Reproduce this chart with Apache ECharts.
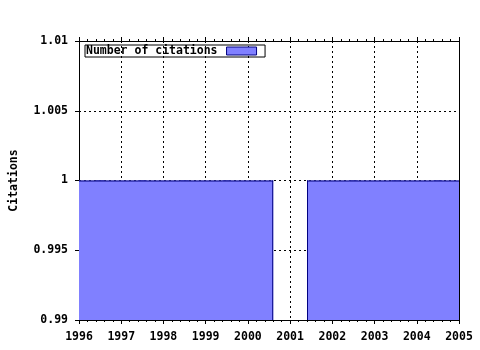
<!DOCTYPE html>
<html><head><meta charset="utf-8">
<script src="https://cdn.jsdelivr.net/npm/echarts@6/dist/echarts.min.js"></script>
<style>html,body{margin:0;padding:0;background:#fff}#c{width:480px;height:350px}</style>
</head><body><div id="c"></div>
<script>
var years = [1996, 1997, 1998, 1999, 2000, 2001, 2002, 2003, 2004, 2005];
var citations = [1, 1, 1, 1, 1, 0, 1, 1, 1, 1];
var yTicks = [0.99, 0.995, 1, 1.005, 1.01];
var yTickLabels = ['0.99', '0.995', '1', '1.005', '1.01'];
var seriesName = 'Number of citations';
var axisName = 'Citations';

var FONT = 'DejaVu Sans Mono';
var FILL = '#8080ff', EDGE = '#000080';
var BOX_HALF = 0.6;
var Y_MIN = yTicks[0], Y_MAX = yTicks[yTicks.length - 1];
var data = years.map(function (y, i) { return [y, citations[i]]; });

var chart = echarts.init(document.getElementById('c'), null, {renderer: 'canvas'});
var txt = {color: '#000', fontFamily: FONT, fontWeight: 'bold', fontSize: 11.5};
var dotted = {show: true, lineStyle: {color: '#000', width: 1, type: [2, 3]}};

function renderItem(params, api) {
  var i = params.dataIndex;
  var x = api.value(0), v = api.value(1);
  var p0 = api.coord([x - BOX_HALF, Y_MIN]);
  var p1 = api.coord([x + BOX_HALF, v]);
  var cs = params.coordSys;
  var left = Math.max(p0[0], cs.x), right = Math.min(p1[0], cs.x + cs.width);
  var top = Math.max(p1[1], cs.y), bottom = p0[1];
  if (v <= Y_MIN || right <= left) return {type: 'group', children: []};
  var children = [{
    type: 'rect', shape: {x: left, y: top, width: right - left, height: bottom - top},
    style: {fill: FILL}
  }];
  var ln = {stroke: EDGE, lineWidth: 1};
  children.push({type: 'line', shape: {x1: left, y1: top + 0.5, x2: right, y2: top + 0.5}, style: ln});
  var prev = i > 0 ? citations[i - 1] : null;
  var next = i < citations.length - 1 ? citations[i + 1] : null;
  if (prev !== v && p0[0] >= cs.x) children.push({type: 'line', shape: {x1: left + 0.5, y1: top, x2: left + 0.5, y2: bottom}, style: ln});
  if (next !== v && p1[0] <= cs.x + cs.width) children.push({type: 'line', shape: {x1: right - 0.5, y1: top, x2: right - 0.5, y2: bottom}, style: ln});
  return {type: 'group', children: children};
}

function yFmt(val) {
  for (var k = 0; k < yTicks.length; k++) if (Math.abs(yTicks[k] - val) < 1e-9) return yTickLabels[k];
  return '';
}

var xCommon = {
  type: 'value', min: years[0], max: years[years.length - 1], interval: 1,
  axisLine: {show: true, onZero: false, lineStyle: {color: '#000', width: 1}},
  axisTick: {show: true, inside: false, length: 4, lineStyle: {color: '#000'}},
  minorTick: {show: true, splitNumber: 5, length: 2, lineStyle: {color: '#000'}}
};

chart.setOption({
  animation: false,
  backgroundColor: '#fff',
  grid: {left: 78, right: 21, top: 41, bottom: 30, containLabel: false},
  legend: {
    show: true, left: 85, top: 45, orient: 'horizontal', align: 'right',
    data: [seriesName], itemWidth: 30, itemHeight: 8, icon: 'rect',
    borderColor: '#000', borderWidth: 1, padding: [0, 8, 0, 1],
    textStyle: Object.assign({}, txt, {padding: [0, 4, 0, 0]}),
    itemStyle: {color: FILL, borderColor: EDGE, borderWidth: 1},
    selectedMode: false
  },
  xAxis: [
    Object.assign({}, xCommon, {
      position: 'bottom',
      axisLabel: Object.assign({}, txt, {margin: 11, formatter: function (v) { return String(v); }}),
      splitLine: dotted
    }),
    Object.assign({}, xCommon, {
      position: 'top', axisLabel: {show: false}, splitLine: {show: false}
    })
  ],
  yAxis: [
    {
      type: 'value', min: Y_MIN, max: Y_MAX, interval: 0.005,
      name: axisName, nameLocation: 'middle', nameGap: 59, nameRotate: 90,
      nameTextStyle: txt,
      axisLine: {show: true, lineStyle: {color: '#000', width: 1}},
      axisTick: {show: true, inside: false, length: 4, lineStyle: {color: '#000'}},
      axisLabel: Object.assign({}, txt, {margin: 11, formatter: yFmt}),
      splitLine: dotted
    },
    {
      type: 'value', min: Y_MIN, max: Y_MAX, interval: 0.005, position: 'right',
      axisLine: {show: true, lineStyle: {color: '#000', width: 1}},
      axisTick: {show: false}, axisLabel: {show: false}, splitLine: {show: false}
    }
  ],
  series: [{
    name: seriesName, type: 'custom', renderItem: renderItem,
    xAxisIndex: 0, yAxisIndex: 0, clip: true,
    itemStyle: {color: FILL, borderColor: EDGE, borderWidth: 1},
    encode: {x: 0, y: 1},
    data: data, z: 2
  }]
});
</script></body></html>
